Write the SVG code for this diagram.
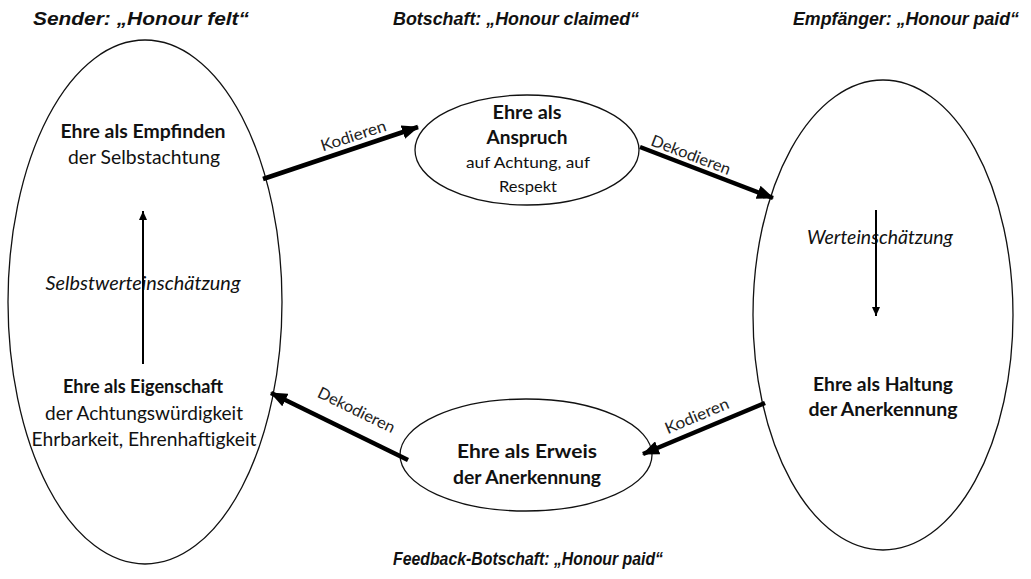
<svg xmlns="http://www.w3.org/2000/svg" width="1031" height="579" viewBox="0 0 1031 579">
<style>
text{font-family:Lato,"Open Sans","Liberation Sans",sans-serif;fill:#111;text-anchor:middle}
.t{font-family:"Liberation Sans",Arial,sans-serif;font-weight:bold;font-style:italic;font-size:18px}
.b{font-weight:bold;font-size:19px}
.r{font-size:19px}
.s{font-size:16px}
.i{font-style:italic;font-size:19px}
.l{font-size:16px;fill:#222}
.node ellipse{fill:none;stroke:#111;stroke-width:1.3}
.thick{stroke:#000;stroke-width:4.5;fill:none}
.thin{stroke:#000;stroke-width:2;fill:none}
</style>
<defs>
<marker id="ah" markerUnits="userSpaceOnUse" markerWidth="18" markerHeight="14" refX="16" refY="7" orient="auto"><path d="M0,0 L17,7 L0,14 Z" fill="#000"/></marker>
<marker id="ahs" markerUnits="userSpaceOnUse" markerWidth="10" markerHeight="8" refX="9" refY="4" orient="auto"><path d="M0,0 L9,4 L0,8 Z" fill="#000"/></marker>
</defs>
<rect width="1031" height="579" fill="#fff"/>
<g id="titles">
<text class="t" x="141" y="25" textLength="216" lengthAdjust="spacingAndGlyphs">Sender: „Honour felt“</text>
<text class="t" x="516" y="25" textLength="246" lengthAdjust="spacingAndGlyphs">Botschaft: „Honour claimed“</text>
<text class="t" x="906" y="25" textLength="226" lengthAdjust="spacingAndGlyphs">Empfänger: „Honour paid“</text>
<text class="t" x="528" y="565" textLength="270" lengthAdjust="spacingAndGlyphs">Feedback-Botschaft: „Honour paid“</text>
</g>
<g id="sender" class="node">
<ellipse cx="145" cy="302" rx="137" ry="262"/>
<text class="b" x="143" y="138" textLength="165" lengthAdjust="spacingAndGlyphs">Ehre als Empfinden</text>
<text class="r" x="144" y="164" textLength="152" lengthAdjust="spacingAndGlyphs">der Selbstachtung</text>
<text class="i" x="143" y="290" textLength="195" lengthAdjust="spacingAndGlyphs">Selbstwerteinschätzung</text>
<text class="b" x="143" y="393" textLength="160" lengthAdjust="spacingAndGlyphs">Ehre als Eigenschaft</text>
<text class="r" x="144" y="420" textLength="198" lengthAdjust="spacingAndGlyphs">der Achtungswürdigkeit</text>
<text class="r" x="144" y="446" textLength="225" lengthAdjust="spacingAndGlyphs">Ehrbarkeit, Ehrenhaftigkeit</text>
</g>
<g id="botschaft" class="node">
<ellipse cx="527" cy="150" rx="112" ry="55"/>
<text class="b" x="527" y="119" textLength="69" lengthAdjust="spacingAndGlyphs">Ehre als</text>
<text class="b" x="527" y="144" textLength="81" lengthAdjust="spacingAndGlyphs">Anspruch</text>
<text class="s" x="528" y="168" textLength="124" lengthAdjust="spacingAndGlyphs">auf Achtung, auf</text>
<text class="s" x="528" y="192" textLength="58" lengthAdjust="spacingAndGlyphs">Respekt</text>
</g>
<g id="empfaenger" class="node">
<ellipse cx="883" cy="315" rx="130" ry="235"/>
<text class="i" x="880" y="244" textLength="146" lengthAdjust="spacingAndGlyphs">Werteinschätzung</text>
<text class="b" x="883" y="391" textLength="140" lengthAdjust="spacingAndGlyphs">Ehre als Haltung</text>
<text class="b" x="883" y="416" textLength="149" lengthAdjust="spacingAndGlyphs">der Anerkennung</text>
</g>
<g id="feedback" class="node">
<ellipse cx="526" cy="455" rx="126" ry="56"/>
<text class="b" x="527" y="458" textLength="140" lengthAdjust="spacingAndGlyphs">Ehre als Erweis</text>
<text class="b" x="527" y="484" textLength="148" lengthAdjust="spacingAndGlyphs">der Anerkennung</text>
</g>
<g id="connectors">
<line class="thick" x1="263" y1="179" x2="418" y2="127" marker-end="url(#ah)"/>
<line class="thick" x1="640" y1="147" x2="773" y2="198" marker-end="url(#ah)"/>
<line class="thick" x1="408" y1="460" x2="271" y2="393" marker-end="url(#ah)"/>
<line class="thick" x1="765" y1="403" x2="643" y2="454" marker-end="url(#ah)"/>
<line class="thin" x1="143" y1="364" x2="143" y2="211" marker-end="url(#ahs)"/>
<line class="thin" x1="876" y1="210" x2="876" y2="316" marker-end="url(#ahs)"/>
<text class="l" transform="translate(355,141) rotate(-18)" textLength="68" lengthAdjust="spacingAndGlyphs">Kodieren</text>
<text class="l" transform="translate(689,160) rotate(21)" textLength="84" lengthAdjust="spacingAndGlyphs">Dekodieren</text>
<text class="l" transform="translate(354,415) rotate(26)" textLength="84" lengthAdjust="spacingAndGlyphs">Dekodieren</text>
<text class="l" transform="translate(699,421) rotate(-23)" textLength="68" lengthAdjust="spacingAndGlyphs">Kodieren</text>
</g>
</svg>
